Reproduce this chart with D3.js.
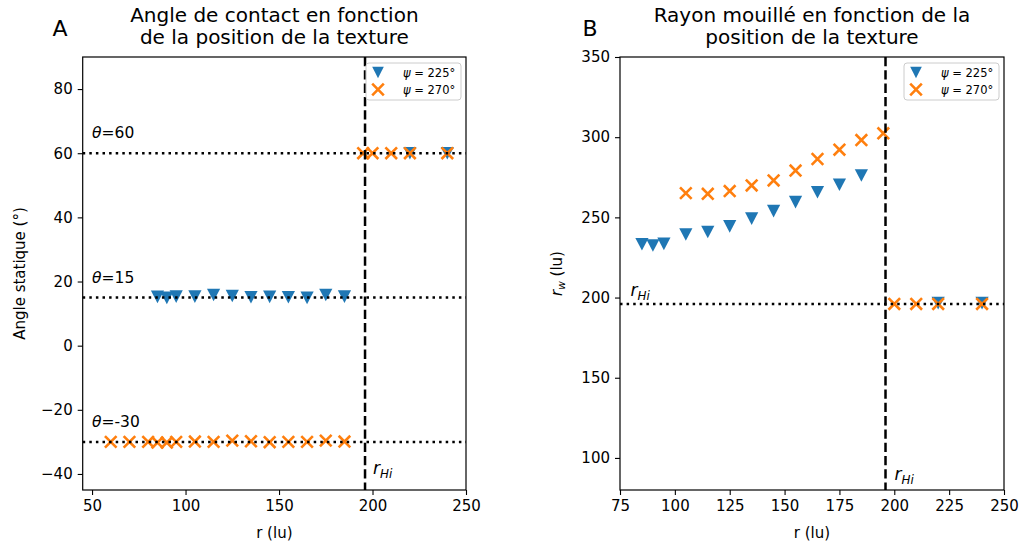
<!DOCTYPE html>
<html>
<head>
<meta charset="utf-8">
<script src="https://cdn.jsdelivr.net/npm/d3@7"></script>
<style>
  body { margin: 0; background: #fff; }
  svg { font-family: "DejaVu Sans", sans-serif; }
</style>
</head>
<body>
<div id="chart"></div>
<script>
var width = 1023;
var height = 547;

// data
var rHi = 196;

// panel A : angle de contact
var aBlueR     = [85, 90, 95, 105, 115, 125, 135, 145, 155, 165, 175, 185, 220, 240];
var aBlueTheta = [15.2, 14.9, 15.3, 15.3, 15.8, 15.5, 15.1, 15.2, 15.1, 14.9, 15.8, 15.3, 60, 60];
var aOrangeR     = [60, 70, 80, 85, 90, 95, 105, 115, 125, 135, 145, 155, 165, 175, 185, 195, 200, 210, 220, 240];
var aOrangeTheta = [-30, -30, -30, -30.2, -30.2, -30, -29.9, -30, -29.6, -29.8, -30.1, -30, -30, -29.6, -29.9, 60, 60, 60, 60, 60];
var thetaLines = [60, 15, -30];
var aYTicks = [-40, -20, 0, 20, 40, 60, 80];
var aXTicks = [50, 100, 150, 200, 250];

// panel B : rayon mouille
var bBlueR  = [85, 90, 95, 105, 115, 125, 135, 145, 155, 165, 175, 185, 220, 240];
var bBlueRw = [233.2, 232.5, 233.5, 239.3, 240.9, 244.4, 249.2, 253.9, 259.5, 265.7, 270.3, 276.1, 196.5, 196.5];
var bOrangeR  = [105, 115, 125, 135, 145, 155, 165, 175, 185, 195, 200, 210, 220, 240];
var bOrangeRw = [265.1, 264.7, 266.4, 269.9, 273.0, 279.2, 286.4, 292.2, 298.2, 302.4, 196, 196, 196, 196];
var bYTicks = [100, 150, 200, 250, 300, 350];
var bXTicks = [75, 100, 125, 150, 175, 200, 225, 250];

var legendLabels = ["225°", "270°"];

var blue = "#1f77b4";
var orange = "#ff7f0e";

var svg = d3.select("#chart")
    .append("svg")
    .attr("width", width)
    .attr("height", height);

var triangle = "M-6.6,-6.3L6.6,-6.3L0,6.3Z";
var legTriangle = "M-5.8,-5.8L5.8,-5.8L0,5.8Z";
var cross = "M-5.8,-5.8L5.8,5.8M-5.8,5.8L5.8,-5.8";

function drawPanel(cfg) {
  var x = d3.scaleLinear().domain(cfg.xDomain).range([cfg.left, cfg.right]);
  var y = d3.scaleLinear().domain(cfg.yDomain).range([cfg.bottom, cfg.top]);
  var g = svg.append('g');

  // markers
  g.selectAll('path.blue')
      .data(d3.zip(cfg.blueX, cfg.blueY))
      .enter()
      .append('path')
      .attr('class', 'blue')
      .attr('d', triangle)
      .attr('transform', function(d) { return 'translate(' + x(d[0]) + ',' + y(d[1]) + ')'; })
      .attr('fill', blue);

  g.selectAll('path.orange')
      .data(d3.zip(cfg.orangeX, cfg.orangeY))
      .enter()
      .append('path')
      .attr('class', 'orange')
      .attr('d', cross)
      .attr('transform', function(d) { return 'translate(' + x(d[0]) + ',' + y(d[1]) + ')'; })
      .attr('stroke', orange)
      .attr('stroke-width', 2.6)
      .attr('fill', 'none');

  // horizontal dotted lines
  g.selectAll('line.hl')
      .data(cfg.hLines)
      .enter()
      .append('line')
      .attr('x1', cfg.left)
      .attr('x2', cfg.right)
      .attr('y1', function(d) { return y(d); })
      .attr('y2', function(d) { return y(d); })
      .attr('stroke', 'black')
      .attr('stroke-width', 2.5)
      .attr('stroke-dasharray', '2.5,4.1');

  // vertical dashed line r_Hi
  g.append('line')
      .attr('x1', x(rHi)).attr('x2', x(rHi))
      .attr('y1', cfg.top).attr('y2', cfg.bottom)
      .attr('stroke', 'black')
      .attr('stroke-width', 2.5)
      .attr('stroke-dasharray', '9.3,4');

  // axes
  var xAxis = d3.axisBottom(x).tickValues(cfg.xTicks).tickSize(5).tickPadding(5).tickFormat(d3.format('d'));
  var yAxis = d3.axisLeft(y).tickValues(cfg.yTicks).tickSize(5).tickPadding(5)
      .tickFormat(function(d) { return d < 0 ? '\u2212' + Math.abs(d) : d; });

  var gx = g.append('g').attr('transform', 'translate(0,' + cfg.bottom + ')').call(xAxis);
  var gy = g.append('g').attr('transform', 'translate(' + cfg.left + ',0)').call(yAxis);
  [gx, gy].forEach(function(a) {
    a.select('.domain').remove();
    a.selectAll('line').attr('stroke', 'black').attr('stroke-width', 1.1);
    a.selectAll('text').attr('font-size', 15).attr('fill', '#000')
      .attr('font-family', '"DejaVu Sans", sans-serif');
  });

  // frame
  g.append('rect')
      .attr('x', cfg.left).attr('y', cfg.top)
      .attr('width', cfg.right - cfg.left).attr('height', cfg.bottom - cfg.top)
      .attr('fill', 'none').attr('stroke', 'black').attr('stroke-width', 1.2);

  // titles
  var cx = (cfg.left + cfg.right) / 2;
  cfg.title.forEach(function(t, i) {
    svg.append('text')
      .attr('x', cx).attr('y', 22 + i * 22)
      .attr('text-anchor', 'middle')
      .attr('font-size', 20)
      .text(t);
  });
  svg.append('text')
    .attr('x', cfg.letterX).attr('y', 36)
    .attr('text-anchor', 'middle')
    .attr('font-size', 22)
    .text(cfg.letter);

  // x label
  svg.append('text')
    .attr('x', cx).attr('y', 538)
    .attr('text-anchor', 'middle')
    .attr('font-size', 15)
    .text('r (lu)');

  // legend
  var lx = cfg.right - 100, ly = 63;
  var leg = g.append('g');
  leg.append('rect')
    .attr('x', lx).attr('y', ly).attr('width', 95).attr('height', 37)
    .attr('rx', 3)
    .attr('fill', 'white').attr('fill-opacity', 0.8)
    .attr('stroke', '#ccc').attr('stroke-width', 1);
  leg.append('path').attr('d', legTriangle)
    .attr('transform', 'translate(' + (lx + 12) + ',' + (ly + 9.5) + ')')
    .attr('fill', blue);
  leg.append('path').attr('d', cross)
    .attr('transform', 'translate(' + (lx + 12) + ',' + (ly + 26.5) + ')')
    .attr('stroke', orange).attr('stroke-width', 2.6).attr('fill', 'none');
  legendLabels.forEach(function(l, i) {
    var t = leg.append('text')
      .attr('x', lx + 37).attr('y', ly + 13.5 + i * 17)
      .attr('font-size', 11.5);
    t.append('tspan').attr('font-style', 'italic').text('\u03c8');
    t.append('tspan').text(' = ' + l);
  });

  return { x: x, y: y, g: g };
}

function rHiLabel(parent, px, py, size) {
  var t = parent.append('text')
    .attr('x', px).attr('y', py)
    .attr('font-size', size)
    .attr('font-style', 'italic');
  t.append('tspan').text('r');
  t.append('tspan').attr('dy', 4).attr('font-size', size * 0.7).text('Hi');
}

// panel A
var A = drawPanel({
  left: 82.7, right: 466, top: 57, bottom: 490,
  xDomain: [45, 250], yDomain: [-45, 90],
  xTicks: aXTicks, yTicks: aYTicks,
  blueX: aBlueR, blueY: aBlueTheta,
  orangeX: aOrangeR, orangeY: aOrangeTheta,
  hLines: thetaLines,
  title: ['Angle de contact en fonction', 'de la position de la texture'],
  letter: 'A', letterX: 60
});

thetaLines.forEach(function(v) {
  var t = A.g.append('text')
    .attr('x', A.x(50)).attr('y', A.y(v) - 15)
    .attr('font-size', 15.5);
  t.append('tspan').attr('font-style', 'italic').text('\u03b8');
  t.append('tspan').text('=' + v);
});
rHiLabel(A.g, A.x(rHi) + 8, 474, 17);

svg.append('text')
  .attr('transform', 'translate(24.5,' + ((57 + 490) / 2) + ') rotate(-90)')
  .attr('text-anchor', 'middle')
  .attr('font-size', 15)
  .text('Angle statique (°)');

// panel B
var B = drawPanel({
  left: 620, right: 1004, top: 57, bottom: 490,
  xDomain: [75, 250], yDomain: [80, 350],
  xTicks: bXTicks, yTicks: bYTicks,
  blueX: bBlueR, blueY: bBlueRw,
  orangeX: bOrangeR, orangeY: bOrangeRw,
  hLines: [rHi],
  title: ['Rayon mouillé en fonction de la', 'position de la texture'],
  letter: 'B', letterX: 590
});

rHiLabel(B.g, B.x(80) - 0.5, B.y(rHi) - 8, 17);
rHiLabel(B.g, B.x(rHi) + 9, 480, 17);

var yl = svg.append('text')
  .attr('transform', 'translate(562,' + ((57 + 490) / 2) + ') rotate(-90)')
  .attr('text-anchor', 'middle')
  .attr('font-size', 15);
yl.append('tspan').attr('font-style', 'italic').text('r');
yl.append('tspan').attr('font-style', 'italic').attr('dy', 3).attr('font-size', 10.5).text('w');
yl.append('tspan').attr('dy', -3).text(' (lu)');
</script>
</body>
</html>
